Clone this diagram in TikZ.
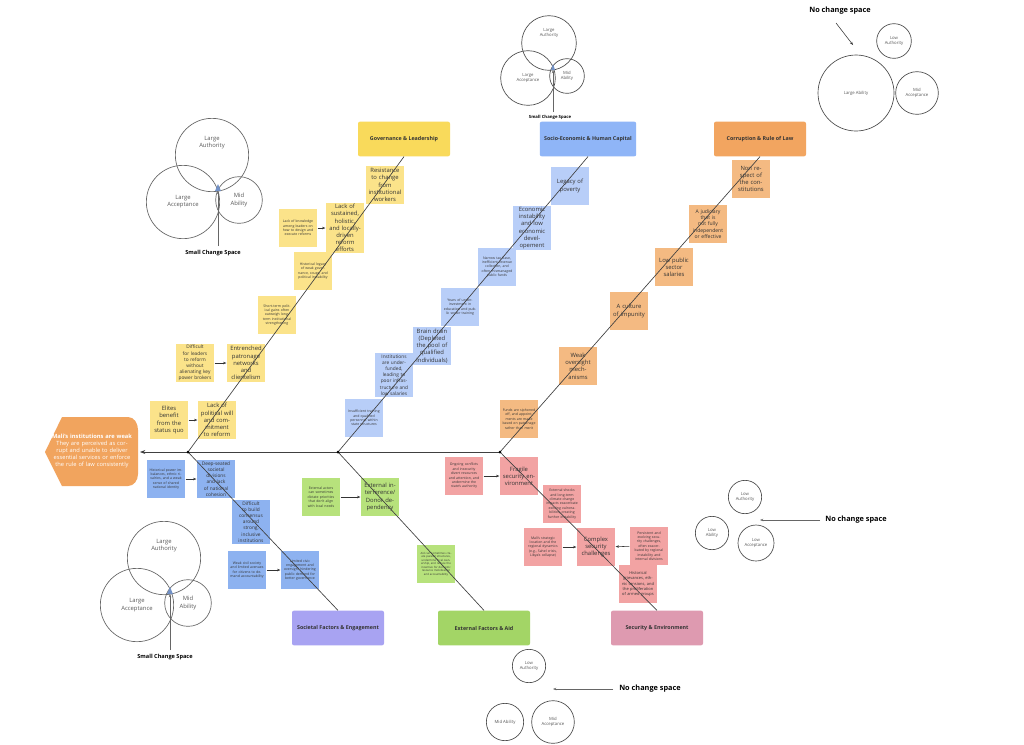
\documentclass[tikz,border=0pt]{standalone}
\usepackage{fontspec}
\setmainfont{Open Sans}
\usetikzlibrary{arrows.meta,shapes.geometric}
\definecolor{govH}{HTML}{F9DA5B}\definecolor{govN}{HTML}{FBE38A}
\definecolor{socH}{HTML}{8FB5F7}\definecolor{socN}{HTML}{B8CEF8}
\definecolor{corH}{HTML}{F2A560}\definecolor{corN}{HTML}{F4BA82}
\definecolor{sfH}{HTML}{A8A3F2}\definecolor{sfN}{HTML}{8DB2F0}
\definecolor{extH}{HTML}{A3D566}\definecolor{extN}{HTML}{B7E27C}
\definecolor{secH}{HTML}{DE9AB0}\definecolor{secN}{HTML}{F2A3A3}
\definecolor{headC}{HTML}{F1A45E}\definecolor{txt}{HTML}{333333}
\tikzset{
 note/.style={fill=#1,minimum width=29pt,minimum height=29pt,text width=25pt,align=center,inner sep=1pt,text=txt,font=\fontsize{4.4}{5.4}\selectfont},
 snote/.style={note=#1,font=\fontsize{2.6}{3.3}\selectfont},
 hdr/.style={fill=#1,rounded corners=1.5pt,minimum width=69pt,minimum height=26pt,text=txt,font=\bfseries\fontsize{4}{5}\selectfont},
 bone/.style={draw=black!75,line width=0.5pt},
 sarr/.style={draw=black!80,line width=0.4pt,-{Stealth[length=2.5pt]}},
 circ/.style={circle,draw=black!60,line width=0.5pt,minimum size=#1,inner sep=0pt,text=black!65,align=center,font=\fontsize{4.4}{5.4}\selectfont},
 ccirc/.style={circle,draw=black!70,line width=0.5pt,minimum size=#1,inner sep=0pt,text=black!65,align=center,font=\fontsize{3.2}{4}\selectfont},
 lbl/.style={font=\bfseries\fontsize{4.2}{5}\selectfont,text=black},
 lblb/.style={font=\bfseries\fontsize{5.5}{6.5}\selectfont,text=black},
}
\begin{document}
\begin{tikzpicture}[x=0.75pt,y=-0.75pt]
\useasboundingbox[fill=white] (0,0) rectangle (1024,744);
% head
\fill[headC] (45,452)--(62,417)--(128,417) to[out=0,in=90] (138,430)--(138,474) to[out=-90,in=0] (128,486)--(62,486)--cycle;
\node[text=white,align=center,text width=62pt,font=\fontsize{4.3}{5.4}\selectfont] (head) at (92,451) {\textbf{Mali's institutions are weak}\\They are perceived as corrupt and unable to deliver essential services or enforce the rule of law consistently};
\coordinate (j1) at (188,452);\coordinate (j2) at (338,452);\coordinate (j3) at (500,452);\coordinate (tip) at (140,452);
% headers
\node[hdr=govH] (hg) at (404,139) {Governance \& Leadership};
\node[hdr=socH] (hs) at (588,139) {Socio-Economic \& Human Capital};
\node[hdr=corH] (hc) at (760,139) {Corruption \& Rule of Law};
\node[hdr=sfH] (hsf) at (338,628) {Societal Factors \& Engagement};
\node[hdr=extH] (he) at (484,628) {External Factors \& Aid};
\node[hdr=secH] (hsec) at (657,628) {Security \& Environment};
% governance notes
\node[note=govN] (g1) at (385,185) {Resistance to change from institutional workers};
\node[note=govN] (g2) at (345,228) {Lack of sustained, holistic, and locally-driven reform efforts};
\node[snote=govN] (g2a) at (298,228) {Lack of knowledge among leaders on how to design and execute reforms};
\node[snote=govN] (g3) at (313,271) {Historical legacy of weak governance, coups, and political instability};
\node[snote=govN] (g4) at (277,315) {Short-term political gains often outweigh long-term institutional strengthening};
\node[note=govN] (g5) at (246,363) {Entrenched patronage networks and clientelism};
\node[note=govN,font=\fontsize{3.6}{4.6}\selectfont] (g5a) at (195,363) {Difficult for leaders to reform without alienating key power brokers};
\node[note=govN] (g6) at (217,420) {Lack of political will and commitment to reform};
\node[note=govN] (g6a) at (169,420) {Elites benefit from the status quo};
% socio notes
\node[note=socN] (s1) at (570,186) {Legacy of poverty};
\node[note=socN] (s2) at (532,228) {Economic instability and low economic developement};
\node[snote=socN] (s3) at (497,267) {Narrow tax base, inefficient revenue collection, and often mismanaged public funds};
\node[snote=socN] (s4) at (460,307) {Years of underinvestment in education and public sector training};
\node[note=socN] (s5) at (432,346) {Brain drain (Depleted the pool of qualified individuals)};
\node[note=socN,font=\fontsize{3.6}{4.6}\selectfont] (s6) at (394,375) {Institutions are underfunded, leading to poor infrastructure and low salaries};
\node[snote=socN] (s7) at (364,418) {Insufficient training and qualified personnel within state structures};
% corruption notes
\node[note=corN] (c1) at (751,179) {Non respect of the constitutions};
\node[note=corN,font=\fontsize{3.8}{4.8}\selectfont] (c2) at (708,224) {A judiciary that is not fully independent or effective};
\node[note=corN] (c3) at (674,267) {Low public sector salaries};
\node[note=corN] (c4) at (629,311) {A culture of impunity};
\node[note=corN] (c5) at (578,366) {Weak oversight mechanisms};
\node[snote=corN] (c6) at (519,419) {Funds are siphoned off, and appointments are made based on patronage rather than merit};
% societal notes
\node[snote=sfN] (f1a) at (166,479) {Historical power imbalances, ethnic rivalries, and a weak sense of shared national identity};
\node[note=sfN,font=\fontsize{3.6}{4.6}\selectfont] (f1) at (216,479) {Deep-seated societal divisions and lack of national cohesion};
\node[note=sfN,font=\fontsize{3.6}{4.6}\selectfont] (f2) at (251,522) {Difficult to build consensus around strong, inclusive institutions};
\node[snote=sfN] (f3a) at (247,570) {Weak civil society and limited avenues for citizens to demand accountability};
\node[snote=sfN] (f3) at (300,570) {Limited civic engagement and oversight hindering public demand for better governance};
% external notes
\node[snote=extN] (e1a) at (321,497) {External actors can sometimes dictate priorities that don't align with local needs};
\node[note=extN] (e1) at (380,497) {External interference/ Donor dependency};
\node[snote=extN,font=\fontsize{2.1}{2.6}\selectfont] (e2) at (436,564) {Aid can sometimes create parallel structures, undermine local ownership, and reduce the incentive for domestic resource mobilization and accountability};
% security notes
\node[snote=secN] (x1a) at (464,476) {Ongoing conflicts and insecurity divert resources and attention, and undermine the state's authority};
\node[note=secN] (x1) at (519,476) {Fragile security environment};
\node[snote=secN] (x2) at (562,504) {External shocks and long-term climate change impacts exacerbate existing vulnerabilities, creating further instability};
\node[note=secN] (x3) at (596,547) {Complex security challenges};
\node[snote=secN] (x3a) at (543,547) {Mali's strategic location and the regional dynamics (e.g., Sahel crisis, Libya's collapse)};
\node[snote=secN] (x3b) at (649,546) {Persistent and evolving security challenges, often exacerbated by regional instability and internal divisions};
\node[snote=secN,font=\fontsize{3}{3.8}\selectfont] (x4) at (638,584) {Historical grievances, ethnic tensions, and the proliferation of armed groups};
% bones
\draw[bone,-{Stealth[length=4pt]}] (j3)--(tip);
\draw[bone] (j1)--(hg.south);
\draw[bone] (j2)--(hs.south);
\draw[bone] (j3)--(hc.south);
\draw[bone] (j1)--(hsf.north);
\draw[bone] (j2)--(he.north);
\draw[bone] (j3)--(hsec.north);
\foreach \j in {j1,j2,j3} \fill (\j) circle (1.5);
% side arrows
\draw[sarr] (g2a)--(g2);\draw[sarr] (g5a)--(g5);\draw[sarr] (g6a)--(g6);
\draw[sarr] (f1a)--(f1);\draw[sarr] (f3a)--(f3);\draw[sarr] (e1a)--(e1);
\draw[sarr] (x1a)--(x1);\draw[sarr] (x3a)--(x3);\draw[sarr] (x3b)--(x3);
% venn top-left
\node[circ=55pt] (v1a) at (212,155) {Large\\Authority\\[14pt]};
\node[circ=55pt] (v1b) at (183,202) {Large\\Acceptance};
\node[circ=35pt] (v1c) at (239,200) {Mid\\Ability};
\fill[socH!80!black] (218,184)--(215,191)--(221,191)--cycle;
\node[lbl] (v1l) at (213,253) {Small Change Space};
\coordinate (v1t) at (218,191);
\draw[sarr,draw=black!60] (218,246)--(v1t);
% venn bottom-left
\node[circ=55pt] (v2a) at (164,558) {Large\\Authority\\[14pt]};
\node[circ=55pt] (v2b) at (137,605) {Large\\Acceptance};
\node[circ=35pt] (v2c) at (188,603) {Mid\\Ability};
\fill[socH!80!black] (170,587)--(167,594)--(173,594)--cycle;
\node[lbl] (v2l) at (165,657) {Small Change Space};
\coordinate (v2t) at (170,594);
\draw[sarr,draw=black!60] (170,650)--(v2t);
% venn top-center
\node[ccirc=41pt] (v3a) at (549,43) {Large\\Authority\\[12pt]};
\node[ccirc=41pt] (v3b) at (528,78) {Large\\Acceptance};
\node[ccirc=26pt] (v3c) at (567,76) {Mid\\Ability};
\fill[socH!80!black] (553,64)--(551,70)--(555,70)--cycle;
\node[font=\bfseries\fontsize{3.2}{4}\selectfont] (v3l) at (550,117) {Small Change Space};
\coordinate (v3t) at (553,70);
\draw[sarr,draw=black!60] (553,112)--(v3t);
% top-right no change
\node[lblb] (n1) at (840,11) {No change space};
\node[ccirc=26pt] (r1a) at (894,41) {Low\\Authority};
\node[ccirc=57pt] (r1b) at (856,93) {Large Ability};
\node[ccirc=32pt] (r1c) at (917,93) {Mid\\Acceptance};
\coordinate (n1t) at (853,45);
\draw[sarr] (836,23)--(n1t);
% right middle
\node[ccirc=25pt] (r2a) at (745,497) {Low\\Authority};
\node[ccirc=25pt] (r2b) at (712,533) {Low\\Ability};
\node[ccirc=27pt] (r2c) at (756,543) {Low\\Acceptance};
\node[lblb] (n2) at (856,520) {No change space};
\coordinate (n2t) at (760,520);
\draw[sarr,draw=black!60] (820,520)--(n2t);
% bottom
\node[ccirc=25pt] (r3a) at (529,666) {Low\\Authority};
\node[ccirc=28pt] (r3b) at (505,722) {Mid Ability};
\node[ccirc=32pt] (r3c) at (553,722) {Mid\\Acceptance};
\node[lblb] (n3) at (650,689) {No change space};
\coordinate (n3t) at (553,689);
\draw[sarr,draw=black!60] (613,689)--(n3t);
\end{tikzpicture}
\end{document}
